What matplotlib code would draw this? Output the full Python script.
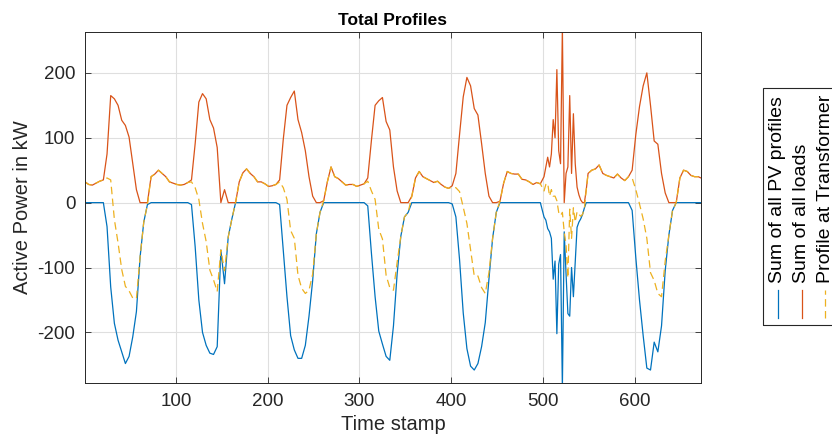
import matplotlib
matplotlib.use('Agg')
import matplotlib.pyplot as plt
from matplotlib.lines import Line2D
from matplotlib.patches import Rectangle

plt.rcParams['font.family'] = ['Liberation Sans', 'DejaVu Sans']
plt.rcParams['axes.unicode_minus'] = False

# time stamps (15 min resolution, 7 days), denser where day 6 is spiky
stamps = list(range(1, 501, 4)) + list(range(501, 549, 2)) + list(range(549, 673, 4)) + [672]

# sum of all PV profiles in kW (one row per day)
pv = [
    0, 0, 0, 0, 0, 0, -37, -130, -186, -212, -230, -248, -237, -207, -168, -84, -30, -3, 0, 0, 0, 0, 0, 0,
    0, 0, 0, 0, 0, -3, -68, -150, -200, -220, -232, -234, -222, -73, -125, -53, -25, 0, 0, 0, 0, 0, 0, 0,
    0, 0, 0, 0, 0, -3, -75, -145, -205, -227, -240, -240, -220, -175, -120, -48, -15, 0, 0, 0, 0, 0, 0, 0,
    0, 0, 0, 0, 0, -5, -78, -145, -198, -218, -237, -243, -190, -110, -52, -22, -15, 0, 0, 0, 0, 0, 0, 0,
    0, 0, 0, 0, -2, -22, -88, -170, -225, -252, -258, -248, -222, -185, -118, -55, -15, 0, 0, 0, 0, 0, 0, 0,
    0, 0, 0, 0, 0,
    -22, -27, -40, -45, -55, -118, -90, -202, -95, -80, -285, -45, -110, -171, -175, -100, -145, -90, -38, -30,
    -25, -18, -8, 0,
    0, 0, 0, 0, 0, 0, 0,
    0, 0, 0, 0, 0, -12, -85, -150, -205, -255, -258, -215, -230, -190, -105, -50, -12, 0, 0, 0, 0, 0, 0, 0, 0,
]

# sum of all loads in kW
loads = [
    32, 28, 27, 30, 33, 35, 75, 165, 160, 150, 127, 119, 101, 60, 20, 0, 0, 0, 40, 44, 50, 45, 40, 32,
    30, 28, 27, 28, 31, 35, 91, 155, 168, 160, 128, 115, 85, 0, 20, 0, 0, 0, 32, 46, 52, 45, 40, 32,
    32, 29, 25, 26, 28, 35, 98, 150, 162, 172, 128, 108, 80, 40, 10, 0, 0, 3, 32, 55, 40, 37, 32, 27,
    28, 28, 25, 27, 29, 38, 96, 150, 157, 162, 125, 112, 55, 18, 0, 0, 0, 10, 38, 48, 40, 37, 34, 31,
    33, 28, 24, 22, 26, 45, 105, 163, 193, 180, 145, 135, 91, 45, 10, 0, 0, 2, 30, 48, 45, 44, 44, 36,
    35, 32, 28, 31, 29,
    40, 55, 70, 55, 75, 128, 100, 205, 80, 60, 270, 0, 45, 55, 165, 45, 137, 60, 24, 12,
    4, 0, 0, 20,
    45, 50, 52, 58, 45, 42, 40,
    38, 44, 38, 34, 40, 50, 105, 148, 180, 200, 150, 95, 90, 45, 15, 0, 0, 0, 38, 50, 48, 42, 40, 40, 38,
]

# profile at transformer in kW
trafo = [
    32, 28, 27, 30, 33, 35, 38, 35, -26, -62, -103, -129, -136, -147, -148, -84, -30, -3, 40, 44, 50, 45, 40, 32,
    30, 28, 27, 28, 31, 32, 23, 5, -32, -60, -104, -119, -137, -73, -105, -53, -25, 0, 32, 46, 52, 45, 40, 32,
    32, 29, 25, 26, 28, 32, 23, 5, -43, -55, -112, -132, -140, -135, -110, -48, -15, 3, 32, 55, 40, 37, 32, 27,
    28, 28, 25, 27, 29, 33, 18, 5, -41, -56, -112, -131, -135, -92, -52, -22, -15, 10, 38, 48, 40, 37, 34, 31,
    33, 28, 24, 22, 24, 23, 17, -7, -32, -72, -113, -113, -131, -140, -108, -55, -15, 2, 30, 48, 45, 44, 44, 36,
    35, 32, 28, 31, 29,
    18, 28, 30, 10, 20, 10, 10, 3, -15, -20, -15, -45, -65, -116, -10, -55, -8, -30, -14, -18,
    -21, -18, -8, 20,
    45, 50, 52, 58, 45, 42, 40,
    38, 44, 38, 34, 40, 38, 20, -2, -25, -55, -108, -120, -140, -145, -90, -50, -12, 0, 38, 50, 48, 42, 40, 40, 38,
]

labels = ['Sum of all PV profiles', 'Sum of all loads', 'Profile at Transformer']
colors = ['#0072BD', '#D95319', '#EDB120']

fig = plt.figure(figsize=(8.32, 4.44), dpi=100)
ax = fig.add_axes([85 / 832, 1 - 383 / 444, (701 - 85) / 832, (383 - 32) / 444])

ax.plot(stamps, pv, color=colors[0], lw=0.9)
ax.plot(stamps, loads, color=colors[1], lw=0.9)
ax.plot(stamps, trafo, color=colors[2], lw=0.9, linestyle=(0, (6, 3.5)))

ax.set_xlim(1, 672)
ax.set_ylim(-278, 263)
ax.set_xticks([100, 200, 300, 400, 500, 600])
ax.set_yticks([-200, -100, 0, 100, 200])
ax.grid(True, color='#DFDFDF', lw=0.8)
ax.set_axisbelow(True)
ax.tick_params(direction='in', top=True, right=True, length=4, width=0.6,
               labelsize=13.5, colors='#262626', pad=7)
for s in ax.spines.values():
    s.set_color('#262626')
    s.set_linewidth(0.7)

ax.set_title('Total Profiles', fontsize=12.5, fontweight='bold', pad=5)
ax.set_xlabel('Time stamp', fontsize=14.5, color='#262626', labelpad=4)
ax.set_ylabel('Active Power in kW', fontsize=14.5, color='#262626', labelpad=4)

# vertical legend box at the right edge (cut off as in the original)
fig.add_artist(Rectangle((763 / 832, 1 - 325 / 444), 0.2, (325 - 88) / 444,
                         transform=fig.transFigure, fill=False,
                         edgecolor='#262626', lw=0.8))
styles = ['-', '-', (0, (6, 3.5))]
for xp, lab, c, ls in zip([778, 802, 825], labels, colors, styles):
    fig.add_artist(Line2D([xp / 832, xp / 832], [1 - 318 / 444, 1 - 290 / 444],
                          transform=fig.transFigure, color=c, lw=0.9, linestyle=ls))
    fig.text(xp / 832, 1 - 283 / 444, lab, rotation=90, ha='center', va='bottom',
             fontsize=14, color='black')

fig.savefig('out.png', dpi=100)
